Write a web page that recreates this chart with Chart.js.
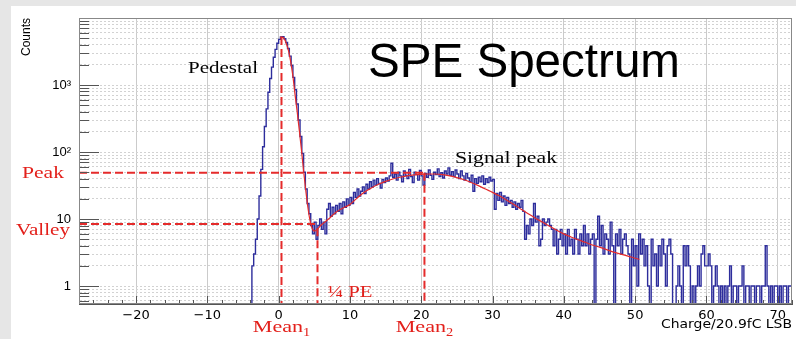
<!DOCTYPE html>
<html>
<head>
<meta charset="utf-8">
<title>SPE Spectrum</title>
<script src="https://cdn.jsdelivr.net/npm/chart.js@4.4.0/dist/chart.umd.min.js"></script>
<style>
  html, body { margin: 0; padding: 0; background: #e6e6e6; overflow: hidden; }
  #panel { position: absolute; left: 11px; top: 6px; right: 0; bottom: 0; background: #fff; }
  #spectrum { position: absolute; left: 0; top: 0; }
</style>
</head>
<body>
<div id="panel"></div>
<canvas id="spectrum" width="796" height="339"></canvas>
<script>
// histogram, 0.25 LSB bins starting at -4
const binStart = -4;
const binWidth = 0.25;
const counts = [
  // -4 .. -0.25
  0, 2, 3, 5, 10, 22, 55, 120, 240, 440, 780, 1250, 1850, 2600, 3400, 4200,
  // 0 .. 3.75
  4800, 5200, 5250, 4900, 4300, 3500, 2700, 1950, 1300, 850, 520, 300, 170, 95, 50, 28,
  // 4 .. 6.75
  17, 12, 8, 6, 9, 5, 8, 10, 7, 9, 6, 14,
  // 7 .. 15.75
  17, 11, 15, 12, 16, 13, 17, 12, 18, 15, 20, 16,
  21, 17, 25, 21, 28, 22, 26, 30, 24, 33, 28, 36,
  30, 38, 32, 40, 34, 29, 39, 35, 41, 37, 44, 68,
  // 16 .. 29.75
  42, 47, 38, 50, 44, 36, 52, 45, 40, 55, 43, 35, 50, 46, 38, 53,
  44, 32, 48, 42, 54, 45, 39, 50, 46, 56, 43, 49, 41, 52, 47, 58,
  45, 51, 43, 54, 47, 40, 52, 44, 38, 48, 41, 36, 45, 26, 40, 34,
  42, 36, 44, 33, 40, 35, 42, 37,
  // 30 .. 34.75
  39, 14, 24, 19, 25, 18, 22, 16, 21, 17, 19, 15, 18, 14, 17, 15, 19, 13, 5, 8,
  // 35 .. 71.75
  6, 10, 8, 17,  9, 11, 4, 5,  10, 8, 9, 10,  8, 7, 4, 7,  3, 5, 7, 4,
  6, 3, 7, 4,  5, 3, 7, 5,  3, 6, 4, 8,  4, 6, 3, 5,  6, 0, 5, 11,
  4, 8, 3, 6,  5, 3, 9, 4,  0, 6, 4, 7,  3, 5, 6, 4,  3, 0, 5, 2,
  4, 1, 6, 3,  5, 2, 4, 1,  0, 5, 2, 3,  1, 4, 2, 5,  3, 1, 4, 5,
  3, 0, 0, 1,  2, 1, 0, 4,  2, 4, 2, 0,  1, 0, 1, 2,  1, 3, 4, 2,
  2, 3, 2, 0,  1, 2, 1, 0,  1, 0, 1, 0,  1, 2, 0, 1,  1, 0, 1, 1,
  2, 0, 1, 1,  0, 1, 1, 0,  1, 1, 0, 1,  1, 4, 1, 0,  1, 0, 1, 1,
  0, 1, 0, 1,  1, 0, 1, 1
];

// red fit curve (pedestal tail + signal peak)
const fitX = [0.2, 0.5, 0.8, 1.1, 1.4, 1.7, 2.0, 2.3, 2.6, 2.9, 3.2, 3.5, 3.8, 4.1, 4.4, 4.7, 5.0, 5.4,
  6, 7, 8, 9, 10, 11, 12, 13, 14, 15, 16, 17, 18, 19, 20, 21, 22, 23, 24, 25, 26, 27, 28, 29, 30,
  31, 32, 33, 34, 35, 36, 37, 38, 39, 40, 41, 42, 43, 44, 45, 46, 47, 48, 49, 50, 50.6];
const fitY = [5200, 5200, 4850, 4100, 3200, 2200, 1350, 720, 400, 210, 107, 52, 27, 15, 9.5, 7.2, 6.6, 7.0,
  8.2, 10, 12.5, 14.5, 16.5, 20.5, 25, 29, 33, 36.5, 39.5, 42, 44, 45.5, 46.5, 47, 47, 46, 44, 41.5, 38.5, 35, 31.5, 28, 25,
  22, 19, 16.5, 14, 12, 10.3, 9, 7.8, 6.8, 6, 5.4, 4.9, 4.5, 4.1, 3.8, 3.5, 3.2, 3.0, 2.8, 2.6, 2.5];

// marker values
const meanOne = 0.4;
const meanTwo = 20.45;
const quarterPE = 5.45;
const valleyEnd = 5.1;
const pedestalTop = 5200;
const peakLevel = 49;
const valleyLevel = 8.4;

// axes
const xMin = -28, xMax = 72;
const yMin = 0.539, yMax = 10000;
const xMajorTicks = [-20, -10, 0, 10, 20, 30, 40, 50, 60, 70];
const yMajorTicks = [1, 10, 100, 1000];
const yTickLabels = ['1', '10', '10\u00B2', '10\u00B3'];

const blue = '#2d2d9c';
const red = '#e52b2b';
const textRed = '#e3201b';

// histogram as a step line, empty bins sit on the bottom of the frame
const histPoints = [{ x: xMin, y: yMin }];
counts.forEach((c, i) => histPoints.push({ x: binStart + i * binWidth, y: c > 0 ? c : yMin }));
histPoints.push({ x: binStart + counts.length * binWidth, y: counts[counts.length - 1] || yMin });

const fitPoints = fitX.map((v, i) => ({ x: v, y: fitY[i] }));

// tick positions
const xTickValues = [];
for (let v = -26; v <= 72; v += 2) xTickValues.push(v);
const yTickValues = [];
for (let e = -1; e <= 3; e++) {
  for (let m = 1; m <= 9; m++) {
    const v = e < 0 ? m / 10 : m * Math.pow(10, e);
    if (v >= yMin && v <= yMax) yTickValues.push(v);
  }
}
yTickValues.push(10000);

function dashed(points) {
  return {
    data: points, borderColor: red, borderWidth: 2, borderDash: [8, 4],
    pointRadius: 0, fill: false, order: 0
  };
}

function stretched(ctx, str, px, py, size, family, color, width, align) {
  ctx.save();
  ctx.font = size + 'px ' + family;
  ctx.fillStyle = color;
  ctx.textBaseline = 'alphabetic';
  const w = ctx.measureText(str).width;
  const sx = width ? width / w : 1;
  let left = px;
  if (align === 'center') left = px - (w * sx) / 2;
  if (align === 'right') left = px - w * sx;
  ctx.translate(left, py);
  ctx.scale(sx, 1);
  ctx.fillText(str, 0, 0);
  ctx.restore();
}

function meanLabel(ctx, sub, cx, py) {
  ctx.save();
  ctx.font = '17px "Liberation Serif"';
  const w1 = ctx.measureText('Mean').width * 1.3;
  ctx.font = '12px "Liberation Serif"';
  const w2 = ctx.measureText(sub).width * 1.2;
  ctx.restore();
  const left = cx - (w1 + w2) / 2;
  stretched(ctx, 'Mean', left, py, 17, '"Liberation Serif"', textRed, w1);
  stretched(ctx, sub, left + w1, py + 4, 12, '"Liberation Serif"', textRed, w2);
}

const frameTicks = {
  id: 'frameTicks',
  afterDatasetsDraw(chart) {
    const { ctx, chartArea: a, scales: { x, y } } = chart;
    ctx.save();
    ctx.strokeStyle = '#555';
    ctx.lineWidth = 1;
    ctx.beginPath();
    y.ticks.forEach(t => {
      const py = Math.round(y.getPixelForValue(t.value)) + 0.5;
      const len = (yMajorTicks.includes(t.value) || t.value === 10000) ? 20 : 10;
      ctx.moveTo(a.left, py);
      ctx.lineTo(a.left + len, py);
    });
    x.ticks.forEach(t => {
      const px = Math.round(x.getPixelForValue(t.value)) + 0.5;
      const len = t.value % 10 === 0 ? 8 : 4;
      ctx.moveTo(px, a.bottom);
      ctx.lineTo(px, a.bottom - len);
    });
    ctx.stroke();
    ctx.strokeStyle = '#888';
    ctx.strokeRect(a.left + 0.5, a.top + 0.5, a.right - a.left - 1, a.bottom - a.top - 1);
    ctx.restore();
  },
  afterDraw(chart) {
    const { ctx, chartArea: a, scales: { x, y } } = chart;
    const serif = '"Liberation Serif"';
    // axis titles
    ctx.save();
    ctx.translate(26.5, a.top);
    ctx.rotate(-Math.PI / 2);
    ctx.font = '12px "Liberation Sans"';
    ctx.fillStyle = '#000';
    ctx.textAlign = 'right';
    ctx.textBaseline = 'middle';
    ctx.fillText('Counts', 0, 0);
    ctx.restore();
    stretched(ctx, 'Charge/20.9fC LSB', a.right, 328, 13, '"DejaVu Sans"', '#000', 131, 'right');

    // big title and peak names
    stretched(ctx, 'SPE Spectrum', 368, 77, 48, '"Liberation Sans"', '#000', 312);
    stretched(ctx, 'Pedestal', 188, 73, 17, serif, '#000', 70);
    stretched(ctx, 'Signal peak', 455, 163, 17, serif, '#000', 102);

    // red markers
    stretched(ctx, 'Peak', 22, y.getPixelForValue(peakLevel) + 5, 17, serif, textRed, 42);
    stretched(ctx, 'Valley', 16, y.getPixelForValue(valleyLevel) + 11, 17, serif, textRed, 54);
    stretched(ctx, '\u00BC PE', x.getPixelForValue(quarterPE) + 10, a.bottom - 7, 17, serif, textRed, 45);
    meanLabel(ctx, '1', x.getPixelForValue(meanOne), 332);
    meanLabel(ctx, '2', x.getPixelForValue(meanTwo), 332);
  }
};

Chart.defaults.font.family = '"DejaVu Sans"';
Chart.defaults.color = '#000';

new Chart(document.getElementById('spectrum'), {
  type: 'line',
  data: {
    datasets: [
      dashed([{ x: xMin, y: peakLevel }, { x: meanTwo, y: peakLevel }]),
      dashed([{ x: xMin, y: valleyLevel }, { x: valleyEnd, y: valleyLevel }]),
      dashed([{ x: meanOne, y: pedestalTop }, { x: meanOne, y: yMin }]),
      dashed([{ x: quarterPE, y: valleyLevel * 0.87 }, { x: quarterPE, y: yMin }]),
      dashed([{ x: meanTwo, y: peakLevel }, { x: meanTwo, y: yMin }]),
      {
        data: fitPoints, borderColor: red, borderWidth: 1.2, pointRadius: 0,
        cubicInterpolationMode: 'monotone', fill: false, order: 1
      },
      {
        data: histPoints, borderColor: blue, borderWidth: 1.4, pointRadius: 0,
        stepped: true, fill: false, order: 2
      }
    ]
  },
  options: {
    responsive: false,
    animation: false,
    devicePixelRatio: 1,
    layout: { padding: { left: 0, top: 18, right: 3, bottom: 0 } },
    plugins: { legend: { display: false }, tooltip: { enabled: false } },
    scales: {
      x: {
        type: 'linear', min: xMin, max: xMax,
        afterBuildTicks: s => { s.ticks = xTickValues.map(v => ({ value: v })); },
        afterFit: s => { s.height = 35; },
        grid: {
          drawTicks: false, lineWidth: 1,
          color: c => (c.tick && c.tick.value % 10 === 0) ? '#cbcbcb' : 'rgba(0,0,0,0)'
        },
        border: { color: '#555', width: 1 },
        ticks: {
          autoSkip: false, maxRotation: 0, padding: 4,
          font: { size: 13 },
          callback: v => xMajorTicks.includes(v) ? String(v).replace('-', '\u2212') : ''
        }
      },
      y: {
        type: 'logarithmic', min: yMin, max: yMax,
        afterBuildTicks: s => { s.ticks = yTickValues.map(v => ({ value: v })); },
        afterFit: s => { s.width = 79; },
        grid: { drawTicks: false, lineWidth: 1, color: '#d2d2d2' },
        border: { color: '#555', width: 1, dash: [2, 2] },
        ticks: {
          autoSkip: false, padding: 8,
          font: { family: '"Liberation Sans"', size: 13 },
          callback: v => {
            const i = yMajorTicks.indexOf(v);
            return i >= 0 ? yTickLabels[i] : '';
          }
        }
      }
    }
  },
  plugins: [frameTicks]
});
</script>
</body>
</html>
